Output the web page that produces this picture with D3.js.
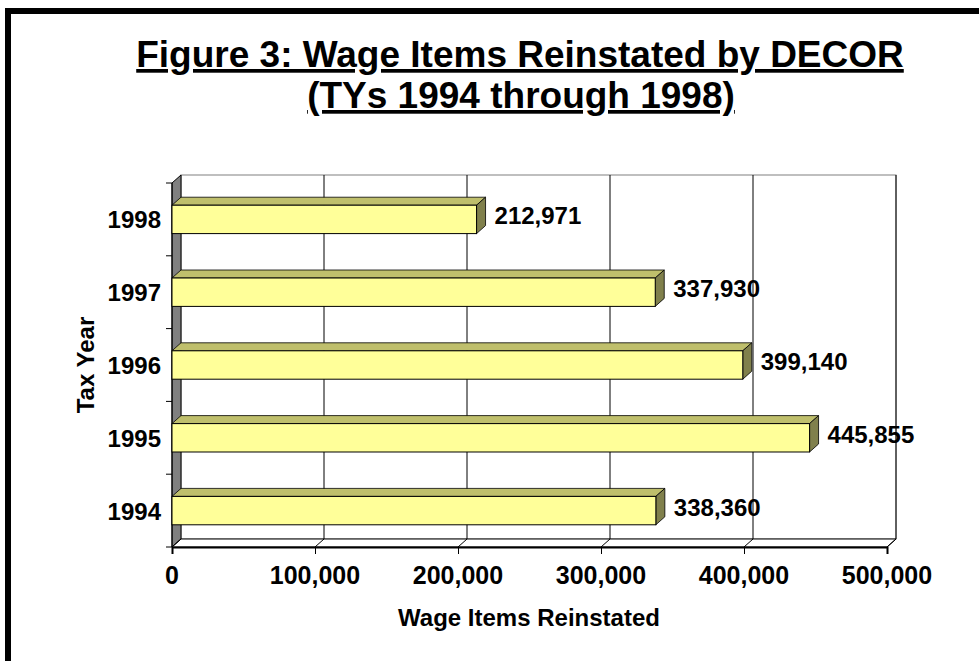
<!DOCTYPE html>
<html>
<head>
<meta charset="utf-8">
<script src="https://cdn.jsdelivr.net/npm/d3@7"></script>
<style>
  body { margin: 0; background: #fff; }
  svg text { font-family: 'Liberation Sans', Arial, sans-serif; font-weight: bold; fill: #000; }
</style>
</head>
<body>
<div id="chartContainer"></div>
<script>
// data
var years = ['1994', '1995', '1996', '1997', '1998'];
var items = [338360, 445855, 399140, 337930, 212971];
var xTicks = [0, 100000, 200000, 300000, 400000, 500000];

var width = 979;
var height = 661;
var depthX = 9;   // 3d offset to the back wall
var depthY = -8;

var svg = d3.select('#chartContainer').
append('svg').
attr('width', width).
attr('height', height);

// outer frame (runs off the right and bottom edge)
svg.append('rect').
attr('x', 8).attr('y', 11).
attr('width', 1000).attr('height', 700).
attr('fill', 'none').
attr('stroke', '#000').
attr('stroke-width', 6);

// title
var title = svg.append('g').attr('text-anchor', 'middle').style('text-decoration', 'underline');
title.append('text').attr('x', 520).attr('y', 67).attr('font-size', 37).
text('Figure 3: Wage Items Reinstated by DECOR');
title.append('text').attr('x', 521).attr('y', 108).attr('font-size', 37).
text('(TYs 1994 through 1998)');

var xScale = d3.scaleLinear().
domain([0, 500000]).
range([172, 887]);

var yScale = d3.scaleBand().
domain(years.slice().reverse()).
range([183, 547]).
padding(0);

var x0 = xScale(0), x1 = xScale(500000);
var yTop = yScale.range()[0], yBot = yScale.range()[1];

// back wall
svg.append('rect').
attr('x', x0 + depthX).attr('y', yTop + depthY).
attr('width', x1 - x0).attr('height', yBot - yTop).
attr('fill', '#fff').
attr('stroke', '#808080');

// gridlines on the back wall
svg.append('g').selectAll('line').
data(xTicks.slice(1)).
enter().
append('line').
attr('x1', function (d) {return xScale(d) + depthX;}).
attr('x2', function (d) {return xScale(d) + depthX;}).
attr('y1', yTop + depthY).
attr('y2', yBot + depthY).
attr('stroke', '#000');

// left wall
svg.append('polygon').
attr('points', [[x0, yTop], [x0 + depthX, yTop + depthY], [x0 + depthX, yBot + depthY], [x0, yBot]].join(' ')).
attr('fill', '#808080').
attr('stroke', '#000');

// floor
svg.append('polygon').
attr('points', [[x0, yBot], [x0 + depthX, yBot + depthY], [x1 + depthX, yBot + depthY], [x1, yBot]].join(' ')).
attr('fill', '#fff').
attr('stroke', '#000');

svg.append('g').selectAll('line').
data(xTicks).
enter().
append('line').
attr('x1', function (d) {return xScale(d);}).
attr('x2', function (d) {return xScale(d) + depthX;}).
attr('y1', yBot).
attr('y2', yBot + depthY).
attr('stroke', '#000');

// front x axis
var xAxis = d3.axisBottom(xScale).
tickValues(xTicks).
tickSize(7).
tickFormat('');

svg.append('g').
attr('transform', 'translate(0,' + yBot + ')').
call(xAxis).
call(function (g) {
  g.select('.domain').attr('stroke-width', 2);
});

svg.append('g').selectAll('text').
data(xTicks).
enter().
append('text').
attr('x', function (d) {return xScale(d);}).
attr('y', 584).
attr('text-anchor', 'middle').
attr('font-size', 25).
text(d3.format(','));

// left axis with ticks between categories
var yAxisLine = svg.append('g');
yAxisLine.append('line').
attr('x1', x0).attr('x2', x0).
attr('y1', yTop).attr('y2', yBot).
attr('stroke', '#000');
var bounds = years.map(function (y) {return yScale(y);}).concat([yBot]);
yAxisLine.selectAll('line.tk').
data(bounds).
enter().
append('line').
attr('class', 'tk').
attr('x1', x0 - 6).attr('x2', x0).
attr('y1', function (d) {return d;}).
attr('y2', function (d) {return d;}).
attr('stroke', '#000');

svg.append('g').selectAll('text').
data(years).
enter().
append('text').
attr('x', 161).
attr('y', function (d) {return yScale(d) + yScale.bandwidth() / 2 + 9;}).
attr('text-anchor', 'end').
attr('font-size', 24).
text(function (d) {return d;});

// bars
var barH = yScale.bandwidth() * 0.39;
var bars = svg.append('g').selectAll('g').
data(years).
enter().
append('g');

function barTop(d) {return yScale(d) + (yScale.bandwidth() - barH) / 2;}

bars.append('polygon').
attr('points', function (d, i) {
  var xe = xScale(items[i]), yt = barTop(d);
  return [[x0, yt], [x0 + depthX, yt + depthY], [xe + depthX, yt + depthY], [xe, yt]].join(' ');
}).
attr('fill', '#bfbf6c').
attr('stroke', '#000').
attr('stroke-width', 0.8);

bars.append('polygon').
attr('points', function (d, i) {
  var xe = xScale(items[i]), yt = barTop(d);
  return [[xe, yt], [xe + depthX, yt + depthY], [xe + depthX, yt + barH + depthY], [xe, yt + barH]].join(' ');
}).
attr('fill', '#80804c').
attr('stroke', '#000').
attr('stroke-width', 0.8);

bars.append('rect').
attr('x', x0).
attr('y', barTop).
attr('width', function (d, i) {return xScale(items[i]) - x0;}).
attr('height', barH).
attr('fill', '#ffff99').
attr('stroke', '#000');

bars.append('text').
attr('x', function (d, i) {return xScale(items[i]) + depthX + 9;}).
attr('y', function (d) {return barTop(d) + barH / 2 + 5;}).
attr('font-size', 24).
text(function (d, i) {return d3.format(',')(items[i]);});

// axis titles
svg.append('text').
attr('x', 529).
attr('y', 626).
attr('text-anchor', 'middle').
attr('font-size', 24).
text('Wage Items Reinstated');

svg.append('text').
attr('transform', 'translate(94,365) rotate(-90)').
attr('text-anchor', 'middle').
attr('font-size', 24).
text('Tax Year');
</script>
</body>
</html>
